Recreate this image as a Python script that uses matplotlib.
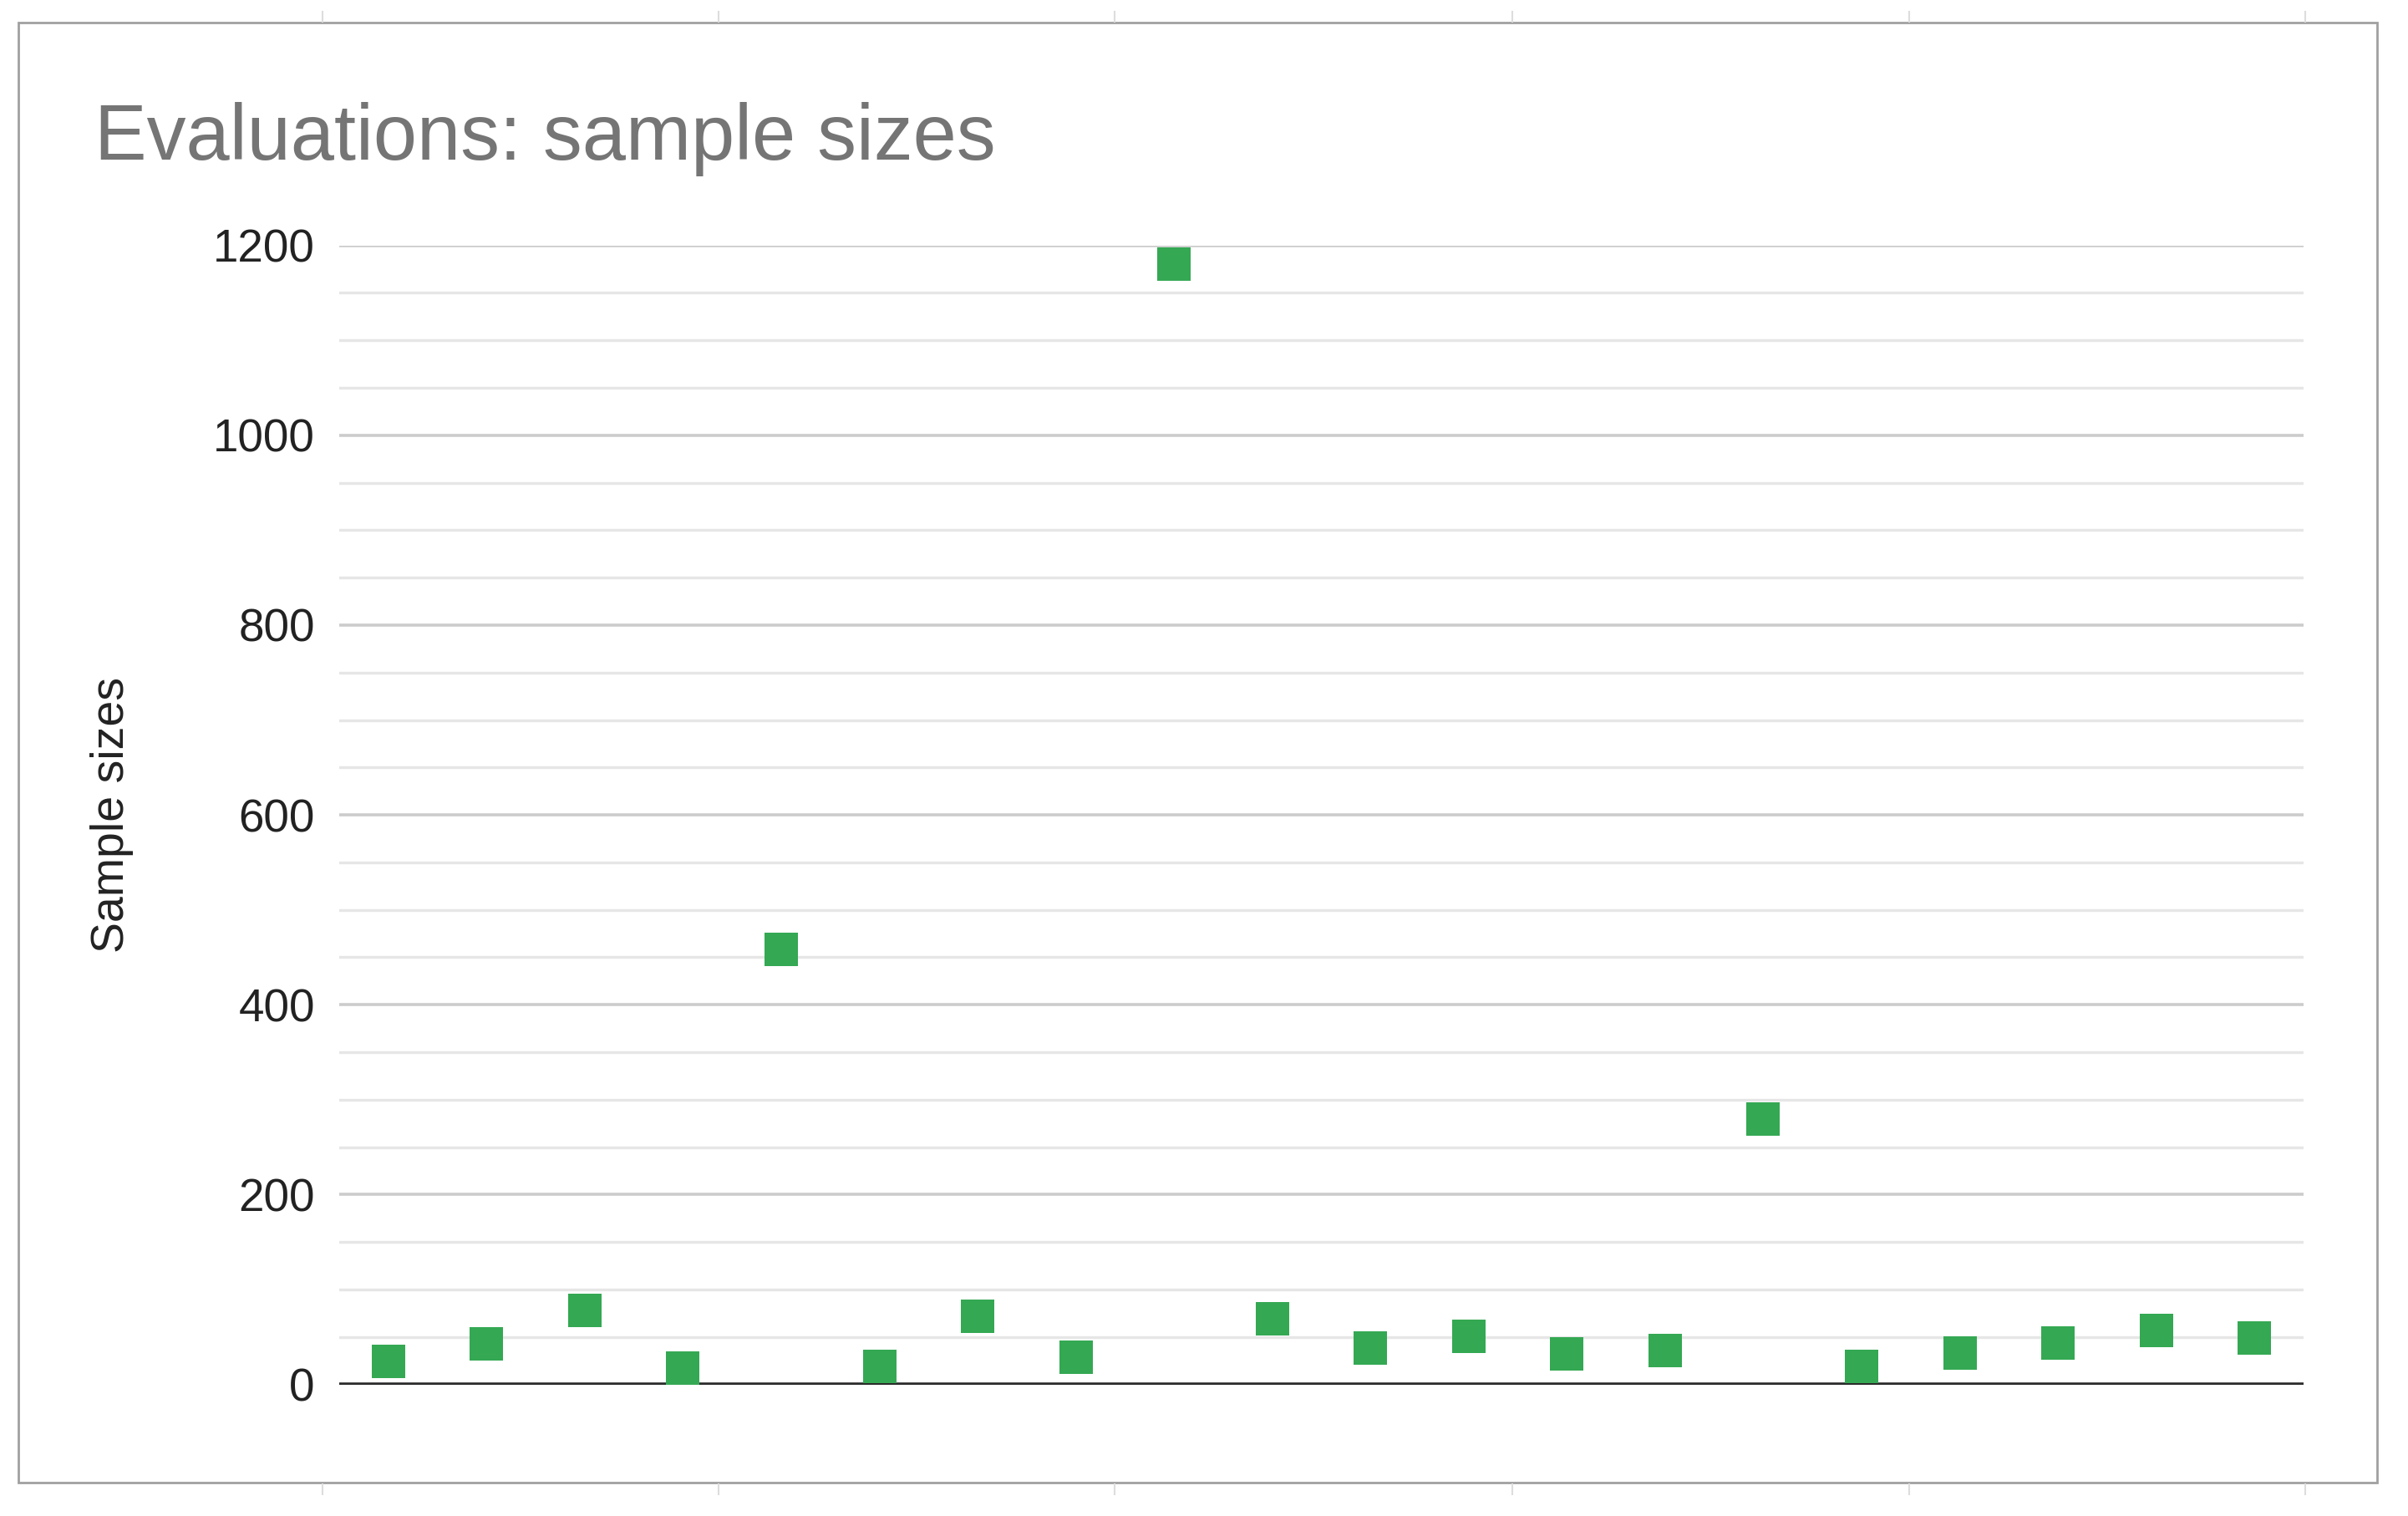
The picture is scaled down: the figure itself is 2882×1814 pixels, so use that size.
import matplotlib.pyplot as plt
from matplotlib.patches import Rectangle
from matplotlib.lines import Line2D

plt.rcParams['font.family'] = ['Liberation Sans', 'DejaVu Sans']

# one point per evaluation, in order
evaluations = list(range(1, 21))
sample_sizes = [24, 43, 78, 17, 458, 19, 72, 29, 1180, 69,
                38, 51, 32, 36, 280, 19, 33, 44, 57, 49]
y_ticks = [0, 200, 400, 600, 800, 1000, 1200]
y_minor = list(range(0, 1201, 50))

W, H = 2882, 1814
fig = plt.figure(figsize=(W / 100, H / 100), dpi=100)
ax = fig.add_axes([406 / W, 1 - 1656.5 / H, (2757 - 406) / W, (1656.5 - 293.7) / H])

ax.set_xlim(0.5, 20.5)
ax.set_ylim(0, 1200)
ax.set_yticks(y_ticks)
ax.set_yticks(y_minor, minor=True)
ax.set_xticks([])
ax.tick_params(axis='y', which='both', length=0, pad=21, labelsize=39.5, labelcolor='#222222')
for s in ax.spines.values():
    s.set_visible(False)

ax.yaxis.grid(True, which='minor', color='#e6e6e6', lw=2.4, zorder=0)
ax.yaxis.grid(True, which='major', color='#cccccc', lw=2.6, zorder=0)
ax.set_axisbelow(True)
ax.axhline(0, color='#2b2b2b', lw=4, zorder=2)

ax.plot(evaluations, sample_sizes, 's', ms=28.8, color='#34A853',
        markeredgewidth=0, zorder=3, clip_on=False)

fig.text(113 / W, 1 - 191 / H, 'Evaluations: sample sizes', fontsize=67.5,
         color='#757575', va='baseline', ha='left')
fig.text(134 / W, 1 - 975 / H, 'Sample sizes', fontsize=40, color='#222222',
         rotation=90, va='center', ha='center')

# outer frame
fig.add_artist(Rectangle((22 / W, 1 - 1774 / H), (2845 - 22) / W, (1774 - 27) / H,
                         transform=fig.transFigure, fill=False, ec='#a0a0a0', lw=2))
for xp in [386, 860, 1334, 1810, 2285, 2759]:
    fig.add_artist(Line2D([xp / W, xp / W], [1 - 1776 / H, 1 - 1788 / H],
                          transform=fig.transFigure, color='#dddddd', lw=1.5))
    fig.add_artist(Line2D([xp / W, xp / W], [1 - 14 / H, 1 - 26 / H],
                          transform=fig.transFigure, color='#dddddd', lw=1.5))

fig.savefig('out.png', dpi=100)
